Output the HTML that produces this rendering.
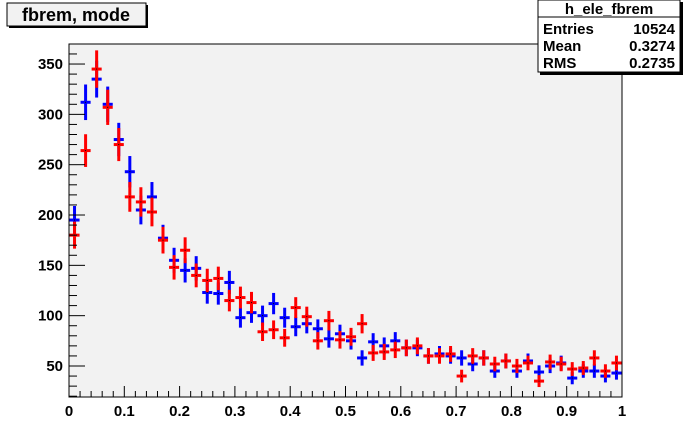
<!DOCTYPE html>
<html><head><meta charset="utf-8"><style>
body{margin:0;background:#fff;}
svg{display:block;font-family:"Liberation Sans",Arial,sans-serif;}
</style></head><body>
<svg id="c" width="692" height="444">
<rect x="0" y="0" width="692" height="444" fill="#ffffff"/>
<rect x="69" y="44" width="553" height="353" fill="#f2f2f2" stroke="#000" stroke-width="1"/>
<g id="marks"></g>
<g id="axes"></g>
<g>
<rect x="9" y="5" width="139" height="23" fill="#000"/>
<rect x="7" y="3" width="139" height="23" fill="#f2f2f2" stroke="#000"/>
<text x="76" y="21" text-anchor="middle" font-size="18" font-weight="bold">fbrem, mode</text>
</g>
<g>
<rect x="540" y="2" width="143" height="73" fill="#000"/>
<rect x="538" y="0" width="142" height="72" fill="#fff" stroke="#000"/>
<line x1="538" y1="17" x2="680" y2="17" stroke="#000"/>
<text x="609" y="14" text-anchor="middle" font-size="15" font-weight="bold">h_ele_fbrem</text>
<text x="543" y="34" font-size="15" font-weight="bold">Entries</text>
<text x="675" y="34" text-anchor="end" font-size="15" font-weight="bold">10524</text>
<text x="543" y="51" font-size="15" font-weight="bold">Mean</text>
<text x="675" y="51" text-anchor="end" font-size="15" font-weight="bold">0.3274</text>
<text x="543" y="68" font-size="15" font-weight="bold">RMS</text>
<text x="675" y="68" text-anchor="end" font-size="15" font-weight="bold">0.2735</text>
</g>
</svg>
<script>
const blueValues=[195,312,335,310,275,243,205,218,177,155,145,147,123,122,133,98,103,100,112,98,89,92,87,77,82,75,58,74,70,75,68,68,60,62,60,58,52,58,45,55,45,55,44,50,53,38,45,45,40,43];
const redValues=[180,264,345,307,270,218,213,203,175,148,165,140,135,137,115,118,113,84,86,78,108,99,75,95,76,79,92,63,64,66,68,70,60,60,62,40,60,58,52,55,50,53,35,54,52,47,48,58,45,53];
const xTickLabels=["0","0.1","0.2","0.3","0.4","0.5","0.6","0.7","0.8","0.9","1"];
const yTickLabels=[50,100,150,200,250,300,350];
const NS="http://www.w3.org/2000/svg";
const X0=69,X1=622,Y0=397,Y1=44,XMIN=0,XMAX=1,YMIN=19.2,YMAX=369.9;
function sx(v){return X0+(v-XMIN)/(XMAX-XMIN)*(X1-X0);}
function sy(v){return Y0-(v-YMIN)/(YMAX-YMIN)*(Y0-Y1);}
function mk(t,a,p){const e=document.createElementNS(NS,t);for(const k in a)e.setAttribute(k,a[k]);p.appendChild(e);return e;}
const marks=document.getElementById('marks'),axes=document.getElementById('axes');
function drawSeries(vals,color,name){
  const n=vals.length,w=(XMAX-XMIN)/n;
  vals.forEach((v,i)=>{
    const g=mk('g',{},marks);
    
    
    const cx=sx(XMIN+(i+0.5)*w),e=Math.sqrt(v);
    mk('line',{x1:sx(XMIN+i*w)+0.5,x2:sx(XMIN+(i+1)*w)-0.5,y1:sy(v),y2:sy(v),stroke:color,'stroke-width':3},g);
    mk('line',{x1:cx,x2:cx,y1:Math.max(Y1,sy(v+e)),y2:Math.min(Y0,sy(v-e)),stroke:color,'stroke-width':3},g);
    mk('rect',{x:cx-0.5,y:sy(v)-0.5,width:1,height:1,fill:'#000'},g);
  });
}
drawSeries(blueValues,'#0000ff','blue-series');
drawSeries(redValues,'#ff0000','red-series');
for(let i=0;i<=50;i++){const v=i*0.02,x=sx(v);const major=i%5===0;
  mk('line',{x1:x,x2:x,y1:Y0,y2:Y0-(major?11:6),stroke:'#000'},axes);}
xTickLabels.forEach((l,i)=>{const t=mk('text',{x:sx(i/10),y:Y0+19,'text-anchor':'middle','font-size':15,'font-weight':'bold'},axes);t.textContent=l;
  
  });
for(let v=20;v<=YMAX;v+=10){const y=sy(v);const major=v%50===0;
  mk('line',{x1:X0,x2:X0+(major?16:8),y1:y,y2:y,stroke:'#000'},axes);}
yTickLabels.forEach(v=>{const t=mk('text',{x:X0-6,y:sy(v)+5,'text-anchor':'end','font-size':15,'font-weight':'bold'},axes);t.textContent=v;
  
  });
</script>
</body></html>
